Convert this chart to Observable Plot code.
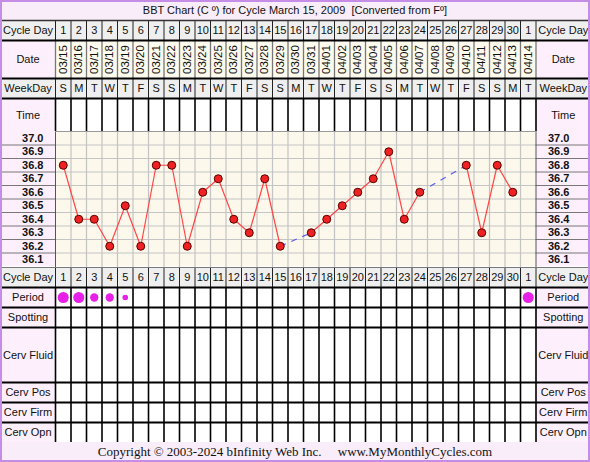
<!DOCTYPE html>
<html><head><meta charset="utf-8">
<script src="https://cdn.jsdelivr.net/npm/d3@7"></script>
<script src="https://cdn.jsdelivr.net/npm/@observablehq/plot@0.6"></script>
<style>
body{margin:0;background:#fff;}
#wrap{position:relative;width:590px;height:462px;overflow:hidden;font-family:"Liberation Sans",Arial,sans-serif;}
#wrap > div{position:absolute;left:0;width:590px;}
#title{top:0;height:20px;background:#f9edf9;font-size:11px;text-align:center;line-height:21px;color:#111;white-space:pre;}
#top{top:20px;height:111px;}
#temp{top:131px;height:136px;}
#bottom{top:267px;height:175px;}
#footer{top:442px;height:20px;background:#f9edf9;font-family:"Liberation Serif","Times New Roman",serif;font-size:13px;text-align:center;line-height:20px;color:#111;white-space:pre;}
#frame{top:0;height:462px;box-sizing:border-box;border:2px solid #c58de6;pointer-events:none;}
svg{display:block;}
</style></head>
<body><div id="wrap"><div id="title"></div><div id="top"></div><div id="temp"></div><div id="bottom"></div><div id="footer"></div><div id="frame"></div></div>
<script>
// ---------- data ----------
const cycleDays = [1,2,3,4,5,6,7,8,9,10,11,12,13,14,15,16,17,18,19,20,21,22,23,24,25,26,27,28,29,30,1];
const dates = ["03/15","03/16","03/17","03/18","03/19","03/20","03/21","03/22","03/23","03/24","03/25","03/26","03/27","03/28","03/29","03/30","03/31","04/01","04/02","04/03","04/04","04/05","04/06","04/07","04/08","04/09","04/10","04/11","04/12","04/13","04/14"];
const weekdays = ["S","M","T","W","T","F","S","S","M","T","W","T","F","S","S","M","T","W","T","F","S","S","M","T","W","T","F","S","S","M","T"];
const temps = [36.8,36.4,36.4,36.2,36.5,36.2,36.8,36.8,36.2,36.6,36.7,36.4,36.3,36.7,36.2,null,36.3,36.4,36.5,36.6,36.7,36.9,36.4,36.6,null,null,36.8,36.3,36.8,36.6,null];
const periodFlow = [3,3,2,2,1,0,0,0,0,0,0,0,0,0,0,0,0,0,0,0,0,0,0,0,0,0,0,0,0,0,3];
const tempLabels = [37.0,36.9,36.8,36.7,36.6,36.5,36.4,36.3,36.2,36.1];
const topRowNames = ["Cycle Day","Date","WeekDay","Time"];
const bottomRowNames = ["Cycle Day","Period","Spotting","Cerv Fluid","Cerv Pos","Cerv Firm","Cerv Opn"];
const titleText = "BBT Chart (C º) for Cycle March 15, 2009  [Converted from Fº]";
const footerText = "Copyright © 2003-2024 bInfinity Web Inc.     www.MyMonthlyCycles.com";

// ---------- layout ----------
const W = 590, LEFT_W = 55, COL_W = 15.5, N = cycleDays.length;
const XMIN = -LEFT_W / COL_W, XMAX = (W - LEFT_W) / COL_W;
const LC = XMIN / 2, RC = (N + XMAX) / 2;
const FONT = "Liberation Sans, Arial, sans-serif";
const FS = 11;
const GRAY = "#efefef", PINK = "#fdf0fc", CREAM = "#fdfaee", WHITE = "#ffffff";

function buildRows(names, heights, styles) {
  let y = 0;
  return names.map((name, i) => {
    const r = {name, y1: y, y2: y + heights[i], ...styles[i]};
    y += heights[i];
    return r;
  });
}
const thinGray = {labelBg: GRAY, cellBg: GRAY, vStroke: "#222", vW: 1};
const topRows = buildRows(topRowNames, [20, 38, 20, 33], [
  thinGray,
  {labelBg: PINK, cellBg: CREAM, vStroke: "#777", vW: 1.3},
  thinGray,
  {labelBg: PINK, cellBg: WHITE, vStroke: "#000", vW: 1.6}
]);
const bottomRows = buildRows(bottomRowNames, [20, 20, 20, 55, 20, 20, 20], [
  thinGray,
  ...bottomRowNames.slice(1).map(() => ({labelBg: PINK, cellBg: WHITE, vStroke: "#000", vW: 1.6}))
]);

const baseOpts = (H) => ({
  width: W, height: H, marginTop: 0, marginBottom: 0, marginLeft: 0, marginRight: 0,
  x: {domain: [XMIN, XMAX], range: [0, W], axis: null},
  color: {type: "identity"},
  style: {background: "transparent", fontFamily: FONT, overflow: "visible"}
});

function tableMarks(rows) {
  const v = rows.flatMap(r => d3.range(0, N + 1).map(k => ({x: k, y1: r.y1, y2: r.y2, stroke: r.vStroke, w: r.vW})));
  const mid = r => (r.y1 + r.y2) / 2;
  return [
    Plot.rect(rows, {x1: XMIN, x2: 0, y1: "y1", y2: "y2", fill: "labelBg"}),
    Plot.rect(rows, {x1: N, x2: XMAX, y1: "y1", y2: "y2", fill: "labelBg"}),
    Plot.rect(rows, {x1: 0, x2: N, y1: "y1", y2: "y2", fill: "cellBg"}),
    Plot.ruleX(v, {x: "x", y1: "y1", y2: "y2", stroke: "stroke", strokeWidth: "w"}),
    Plot.ruleY(rows.slice(1), {y: "y1", x1: XMIN, x2: XMAX, stroke: "#000", strokeWidth: 2.2}),
    Plot.text(rows, {x: LC, y: mid, text: "name", fontSize: FS, fill: "#111"}),
    Plot.text(rows, {x: RC, y: mid, text: "name", fontSize: FS, fill: "#111"})
  ];
}

const days = cycleDays.map((c, i) => ({x: i + 0.5, c, date: dates[i], wd: weekdays[i], t: temps[i], flow: periodFlow[i]}));

// ---------- title / footer ----------
document.getElementById("title").textContent = titleText;
document.getElementById("footer").textContent = footerText;

// ---------- top table ----------
{
  const H = topRows[topRows.length - 1].y2;
  const rowMid = name => { const r = topRows.find(d => d.name === name); return (r.y1 + r.y2) / 2; };
  const p = Plot.plot({
    ...baseOpts(H),
    y: {domain: [0, H], range: [0, H], axis: null},
    marks: [
      ...tableMarks(topRows),
      Plot.ruleY([0], {x1: XMIN, x2: XMAX, stroke: "#333", strokeWidth: 1.5}),
      Plot.text(days, {x: "x", y: rowMid("Cycle Day"), text: "c", fontSize: FS, fill: "#111"}),
      Plot.text(days, {x: "x", y: rowMid("Date"), text: "date", rotate: -90, fontSize: 11.5, fill: "#111"}),
      Plot.text(days, {x: "x", y: rowMid("WeekDay"), text: "wd", fontSize: FS, fill: "#111"})
    ]
  });
  document.getElementById("top").append(p);
}

// ---------- temperature chart ----------
{
  const H = 136;
  const bounds = d3.range(0, tempLabels.length + 1).map(k => tempLabels[0] + 0.05 - k * 0.1);
  const defined = days.filter(d => d.t != null);
  const bridges = [];
  for (let i = 1; i < defined.length; i++) {
    if (defined[i].x - defined[i - 1].x > 1) bridges.push({a: defined[i - 1], b: defined[i]});
  }
  const p = Plot.plot({
    ...baseOpts(H),
    y: {domain: [tempLabels[tempLabels.length - 1] - 0.05, tempLabels[0] + 0.05], range: [135, 0], axis: null},
    marks: [
      Plot.rect([0], {x1: XMIN, x2: 0, y1: bounds[bounds.length - 1], y2: bounds[0], fill: PINK}),
      Plot.rect([0], {x1: N, x2: XMAX, y1: bounds[bounds.length - 1], y2: bounds[0], fill: PINK}),
      Plot.rect([0], {x1: 0, x2: N, y1: bounds[bounds.length - 1], y2: bounds[0], fill: "#fcf8ec"}),
      Plot.ruleY(bounds.slice(1, -1), {x1: 0, x2: N, stroke: "#c4c4c4", strokeWidth: 1.2}),
      Plot.ruleY(bounds.slice(1, -1), {x1: XMIN, x2: 0, stroke: "#777", strokeWidth: 1}),
      Plot.ruleY(bounds.slice(1, -1), {x1: N, x2: XMAX, stroke: "#777", strokeWidth: 1}),
      Plot.ruleX(d3.range(1, N), {stroke: "#c4c4c4", strokeWidth: 1.2}),
      Plot.ruleX([0, N], {stroke: "#555", strokeWidth: 1}),
      Plot.ruleY([bounds[0]], {x1: 0, x2: N, stroke: "#999", strokeWidth: 1}),
      Plot.text(tempLabels, {x: (0 - 12 / COL_W), y: d => d, text: d => d.toFixed(1), textAnchor: "end", fontSize: FS, fontWeight: "bold", fill: "#111"}),
      Plot.text(tempLabels, {x: N + 12 / COL_W, y: d => d, text: d => d.toFixed(1), textAnchor: "start", fontSize: FS, fontWeight: "bold", fill: "#111"}),
      Plot.link(bridges, {x1: d => d.a.x, y1: d => d.a.t, x2: d => d.b.x, y2: d => d.b.t, stroke: "#5a5af0", strokeWidth: 1.2, strokeDasharray: "6,6"}),
      Plot.line(days, {x: "x", y: "t", stroke: "#ff4646", strokeWidth: 1.2}),
      Plot.dot(defined, {x: "x", y: "t", r: 4, fill: "#ee2222", stroke: "#5a0000", strokeWidth: 1})
    ]
  });
  document.getElementById("temp").append(p);
}

// ---------- bottom table ----------
{
  const H = bottomRows[bottomRows.length - 1].y2;
  const rowMid = name => { const r = bottomRows.find(d => d.name === name); return (r.y1 + r.y2) / 2; };
  const p = Plot.plot({
    ...baseOpts(H),
    y: {domain: [0, H], range: [0, H], axis: null},
    r: {type: "linear", domain: [1, 3], range: [2.8, 5.5]},
    marks: [
      ...tableMarks(bottomRows),
      Plot.ruleY([0], {x1: XMIN, x2: XMAX, stroke: "#777", strokeWidth: 1}),
      Plot.text(days, {x: "x", y: rowMid("Cycle Day"), text: "c", fontSize: FS, fill: "#111"}),
      Plot.dot(days.filter(d => d.flow > 0), {x: "x", y: rowMid("Period"), r: "flow", fill: "#e620e6"})
    ]
  });
  document.getElementById("bottom").append(p);
}
</script>
</body></html>
